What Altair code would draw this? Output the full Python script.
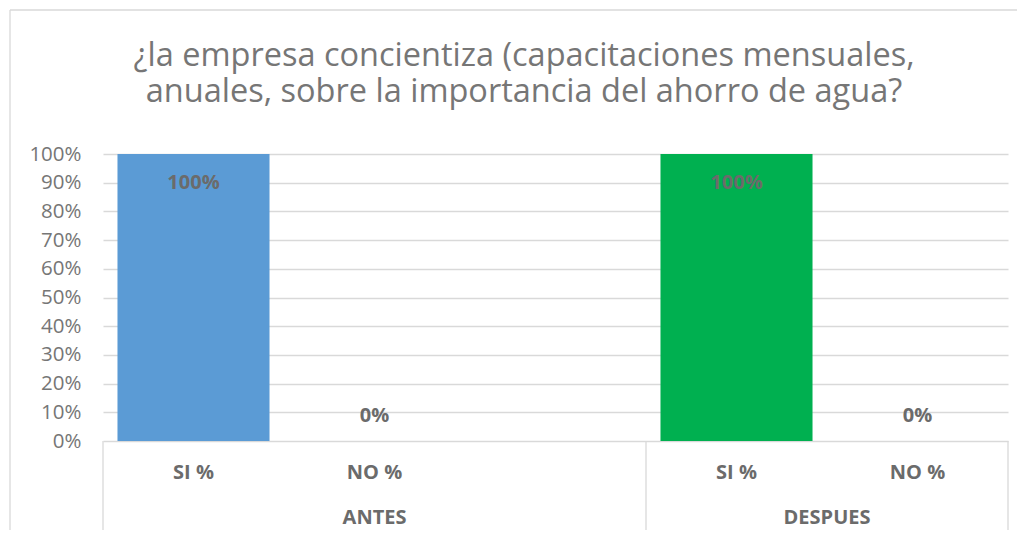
import altair as alt
import pandas as pd

# ---- data ----
groups = ["ANTES", "ANTES", "ANTES", "DESPUES", "DESPUES"]
subcats = ["SI %", "NO %", "", "SI %", "NO %"]
values = [1.0, 0.0, None, 1.0, 0.0]
group_names = ["ANTES", "DESPUES"]
group_colors = ["#5B9BD5", "#00B050"]
y_ticks = [0, 0.1, 0.2, 0.3, 0.4, 0.5, 0.6, 0.7, 0.8, 0.9, 1.0]
title_lines = ["¿la empresa concientiza (capacitaciones mensuales,",
               "anuales, sobre la importancia del ahorro de agua?"]

# ---- derived tables ----
df = pd.DataFrame({"grupo": groups, "sub": subcats, "valor": values})
df["slot"] = range(len(df))
n_slots = len(df)
df_bars = df.dropna(subset=["valor"]).copy()

g = df.groupby("grupo", sort=False)["slot"].agg(["min", "max"]).reset_index()
g["start"] = g["min"]
g["end"] = g["max"] + 1
g["center"] = (g["start"] + g["end"]) / 2
bounds = sorted(set(g["start"].tolist() + g["end"].tolist()))
df_bounds = pd.DataFrame({"b": bounds})
one_row = pd.DataFrame({"k": [0]})

W, H = 905, 287
FONT = "Open Sans"
GRAY = "#767676"
LABEL_GRAY = "#6b6b6b"
GRID = "#d9d9d9"
LBL = 20

xscale = alt.Scale(domain=[0, n_slots], nice=False, zero=False)
yscale = alt.Scale(domain=[0, 1], nice=False)
yaxis = alt.Axis(
    values=y_ticks, format=".0%", grid=True, gridColor=GRID, gridWidth=1.3,
    domain=False, ticks=False, labelFontSize=20.5, labelColor=GRAY,
    labelFont=FONT, labelPadding=22, labelOverlap=False, title=None)

base = alt.Chart(df_bars)

bars = base.transform_calculate(
    x0="datum.slot + 0.08", x1="datum.slot + 0.92"
).mark_bar().encode(
    x=alt.X("x0:Q", scale=xscale, axis=None),
    x2="x1:Q",
    y=alt.Y("valor:Q", scale=yscale, axis=yaxis),
    y2=alt.datum(0),
    color=alt.Color("grupo:N", scale=alt.Scale(domain=group_names, range=group_colors), legend=None),
)

lab_pos = base.transform_filter("datum.valor > 0").transform_calculate(
    mid="datum.slot + 0.5"
).mark_text(font=FONT, fontWeight="bold", fontSize=LBL, color=LABEL_GRAY, dy=29, baseline="middle").encode(
    x=alt.X("mid:Q", scale=xscale, axis=None),
    y=alt.Y("valor:Q", scale=yscale, axis=yaxis),
    text=alt.Text("valor:Q", format=".0%"),
)

lab_zero = base.transform_filter("datum.valor == 0").transform_calculate(
    mid="datum.slot + 0.5"
).mark_text(font=FONT, fontWeight="bold", fontSize=LBL, color=LABEL_GRAY, dy=-25, baseline="middle").encode(
    x=alt.X("mid:Q", scale=xscale, axis=None),
    y=alt.Y("valor:Q", scale=yscale, axis=yaxis),
    text=alt.Text("valor:Q", format=".0%"),
)

sub_labels = alt.Chart(df).transform_calculate(
    mid="datum.slot + 0.5"
).mark_text(font=FONT, fontWeight="bold", fontSize=LBL, color=LABEL_GRAY, baseline="middle").encode(
    x=alt.X("mid:Q", scale=xscale, axis=None),
    y=alt.value(H + 32),
    text="sub:N",
)

group_labels = alt.Chart(g).mark_text(font=FONT, fontWeight="bold", fontSize=LBL, color=LABEL_GRAY, baseline="middle").encode(
    x=alt.X("center:Q", scale=xscale, axis=None),
    y=alt.value(H + 77),
    text="grupo:N",
)

seps = alt.Chart(df_bounds).mark_rule(color=GRID, strokeWidth=1.3).encode(
    x=alt.X("b:Q", scale=xscale, axis=None),
    y=alt.value(H),
    y2=alt.value(H + 94),
)

border_left = alt.Chart(one_row).mark_rule(color=GRID, strokeWidth=1.3).encode(
    x=alt.value(-93), y=alt.value(-144), y2=alt.value(H + 120),
)
border_top = alt.Chart(one_row).mark_rule(color=GRID, strokeWidth=1.3).encode(
    x=alt.value(-93), x2=alt.value(W + 20), y=alt.value(-144),
)

title1 = alt.Chart(one_row).mark_text(font=FONT, fontSize=32.5, color=GRAY, baseline="alphabetic", align="center").encode(
    x=alt.value(421), y=alt.value(-88), text=alt.value(title_lines[0]),
)
title2 = alt.Chart(one_row).mark_text(font=FONT, fontSize=32.5, color=GRAY, baseline="alphabetic", align="center").encode(
    x=alt.value(421), y=alt.value(-52), text=alt.value(title_lines[1]),
)

chart = alt.layer(
    border_left, border_top, bars, seps, lab_pos, lab_zero, sub_labels, group_labels, title1, title2
).properties(
    width=W, height=H,
    autosize=alt.AutoSizeParams(type="none"),
    padding={"left": 95, "top": 146, "right": 9, "bottom": 89},
    background="white",
).configure_view(stroke=None)

chart.save("out.html", embed_options={"renderer": "svg", "actions": False})
